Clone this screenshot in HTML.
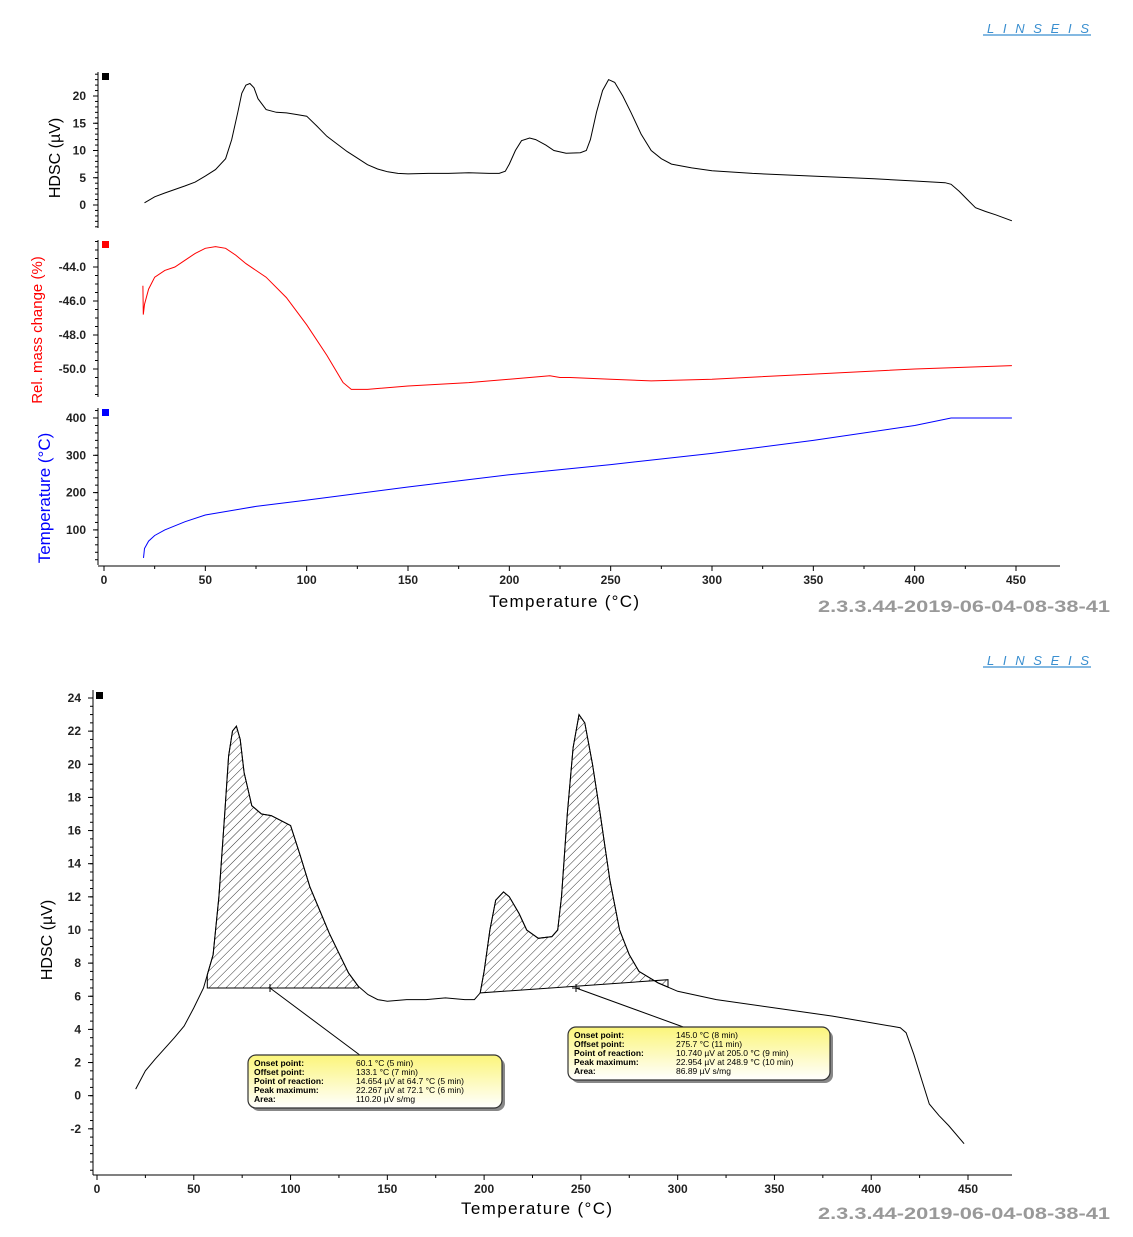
<!DOCTYPE html>
<html><head><meta charset="utf-8"><style>
html,body{margin:0;padding:0;background:#fff}
svg{display:block;font-family:"Liberation Sans",Verdana,sans-serif}
.tk{font-size:12px;font-weight:bold;fill:#222}
</style></head><body>
<svg id="c" width="1133" height="1237" xmlns="http://www.w3.org/2000/svg"></svg>
<script>
// ---- data ----
const hdscT=[20,25,30,40,45,50,55,60,63,66,68,70,72,74,76,80,85,90,95,100,105,110,115,120,125,130,135,140,145,150,160,170,180,190,195,198,200,203,206,210,213,218,222,228,235,238,240,243,246,249,252,256,260,265,270,275,280,290,300,320,350,380,400,415,418,422,426,430,435,440,448];
const hdscV=[0.4,1.5,2.2,3.5,4.2,5.3,6.5,8.5,12,17,20.5,22,22.3,21.5,19.5,17.5,17.0,16.9,16.6,16.3,14.5,12.6,11.2,9.8,8.6,7.4,6.6,6.1,5.8,5.7,5.8,5.8,5.9,5.8,5.8,6.2,7.5,10,11.8,12.3,12,11,10,9.5,9.6,10,12,17,21,23,22.5,20,17,13,10,8.5,7.5,6.8,6.3,5.8,5.3,4.8,4.4,4.1,3.8,2.5,1,-0.5,-1.2,-1.8,-2.9];
const massT=[19.2,19.4,20,22,25,30,35,40,45,50,55,60,65,70,80,90,100,110,118,122,130,150,180,200,210,220,225,230,250,270,300,350,400,448];
const massV=[-45.1,-46.8,-46.2,-45.3,-44.6,-44.2,-44.0,-43.6,-43.2,-42.9,-42.8,-42.9,-43.3,-43.8,-44.6,-45.8,-47.4,-49.2,-50.8,-51.2,-51.2,-51.0,-50.8,-50.6,-50.5,-50.4,-50.5,-50.5,-50.6,-50.7,-50.6,-50.3,-50.0,-49.8];
const tempT=[19.5,20,22,25,30,40,50,75,100,150,200,250,300,350,400,418,448];
const tempV=[25,50,70,85,100,122,140,163,180,215,248,275,305,340,380,400,400];
const xTicks=[0,50,100,150,200,250,300,350,400,450];
const hdscTicksTop=[0,5,10,15,20];
const massTicks=[-44,-46,-48,-50];
const tempTicks=[100,200,300,400];
const hdscTicksBot=[-2,0,2,4,6,8,10,12,14,16,18,20,22,24];
const peak1=[57,135,6.5,6.5]; const peak2=[198,295,6.2,7.0];
const NS="http://www.w3.org/2000/svg";
const svg=document.getElementById('c');
function el(tag,attrs,parent,text){const e=document.createElementNS(NS,tag);for(const k in attrs)e.setAttribute(k,attrs[k]);if(text!==undefined)e.textContent=text;(parent||svg).appendChild(e);return e;}
const xT=t=>104+t*912/450, xB=t=>97+t*871/450;
const yH=v=>205-v*5.45, yM=v=>267-(v+44)*17, yTe=v=>418-(v-400)*0.373, yB=v=>698+(24-v)*16.57;
function pathD(X,Y,xs,ys){return xs.map((t,i)=>(i?'L':'M')+X(t).toFixed(1)+','+Y(ys[i]).toFixed(1)).join('');}
function interp(xs,ys,t){for(let i=1;i<xs.length;i++)if(t<=xs[i]){const f=(t-xs[i-1])/(xs[i]-xs[i-1]);return ys[i-1]+f*(ys[i]-ys[i-1]);}return ys[ys.length-1];}
function logo(x,y){const g=el('g',{},svg);
 el('text',{x:x+2,y:y,'font-size':13,'font-style':'italic',fill:'#3a8fd0',textLength:102,lengthAdjust:'spacing'},g,'LINSEIS');
 el('line',{x1:x-2,y1:y+2,x2:x+106,y2:y+2,stroke:'#3a8fd0','stroke-width':1.2},g);}
function version(y){const t=el('text',{x:818,y:y,'font-size':17,'font-weight':'bold',fill:'#999',textLength:292,lengthAdjust:'spacingAndGlyphs'},svg,'2.3.3.44-2019-06-04-08-38-41');}
function yAxis(x,y0,y1,Y,ticks,fmt,color,minorStep,g){
 el('line',{x1:x,y1:y0,x2:x,y2:y1,stroke:'#000'},g);
 ticks.forEach(v=>{el('line',{x1:x-5,y1:Y(v),x2:x,y2:Y(v),stroke:'#000'},g);
  const t=el('text',{x:x-12,y:Y(v)+4,'text-anchor':'end',class:'tk',fill:color},g,fmt(v));});
 if(minorStep){const a=Math.min(Y(ticks[0]),Y(ticks[ticks.length-1]));for(let y=a-Math.floor((a-y0)/minorStep)*minorStep;y<=y1;y+=minorStep)el('line',{x1:x-3,y1:y,x2:x,y2:y,stroke:'#000'},g);}
}
function xAxis(X,y,x0,x1,g){
 el('line',{x1:x0,y1:y,x2:x1,y2:y,stroke:'#000'},g);
 xTicks.forEach((t,i)=>{el('line',{x1:X(t),y1:y,x2:X(t),y2:y+5,stroke:'#000'},g);
  if(i<xTicks.length-1)el('line',{x1:X(t+25),y1:y,x2:X(t+25),y2:y+3,stroke:'#000'},g);
  const l=el('text',{x:X(t),y:y+18,'text-anchor':'middle',class:'tk'},g,t);});
}
// ===== top chart =====
logo(985,33);
const topChart=el('g',{});
yAxis(98,72,228,yH,hdscTicksTop,v=>v,'#222',5.45,topChart);
el('rect',{x:102,y:73,width:7,height:7,fill:'#000'},topChart);
let t1=el('text',{transform:'translate(60,158) rotate(-90)','text-anchor':'middle','font-size':16,fill:'#000'},topChart,'HDSC (µV)');
yAxis(98,240,397,yM,massTicks,v=>v.toFixed(1),'#f00',8.5,topChart);
el('rect',{x:102,y:241,width:7,height:7,fill:'#f00'},topChart);
let t2=el('text',{transform:'translate(42,330) rotate(-90)','text-anchor':'middle','font-size':15,fill:'#f00'},topChart,'Rel. mass change (%)');
yAxis(98,408,565,yTe,tempTicks,v=>v,'#33f',7.46,topChart);
el('rect',{x:102,y:409,width:7,height:7,fill:'#00f'},topChart);
let t3=el('text',{transform:'translate(50,498) rotate(-90)','text-anchor':'middle','font-size':17,fill:'#00f'},topChart,'Temperature (°C)');
xAxis(xT,566,98,1060,topChart);
let xl=el('text',{x:489,y:607,'font-size':17,fill:'#000',textLength:150},topChart,'Temperature (°C)');
let p1=el('path',{d:pathD(xT,yH,hdscT,hdscV),fill:'none',stroke:'#000','stroke-width':1},topChart);
let p2=el('path',{d:pathD(xT,yM,massT,massV),fill:'none',stroke:'#f00','stroke-width':1},topChart);
let p3=el('path',{d:pathD(xT,yTe,tempT,tempV),fill:'none',stroke:'#00f','stroke-width':1},topChart);
version(612);
// ===== bottom chart =====
logo(985,665);
const botChart=el('g',{});
const defs=el('defs',{},svg);
const pat=el('pattern',{id:'hatch',width:6,height:6,patternUnits:'userSpaceOnUse',patternTransform:'rotate(45)'},defs);
el('line',{x1:0,y1:0,x2:0,y2:6,stroke:'#000','stroke-width':0.8},pat);
yAxis(93,690,1175,yB,hdscTicksBot,v=>v,'#222',8.285,botChart);
el('rect',{x:96,y:692,width:7,height:7,fill:'#000'},botChart);
let t4=el('text',{transform:'translate(52,940) rotate(-90)','text-anchor':'middle','font-size':16,fill:'#000'},botChart,'HDSC (µV)');
xAxis(xB,1175,93,1012,botChart);
let xl2=el('text',{x:461,y:1214,'font-size':17,fill:'#000',textLength:151},botChart,'Temperature (°C)');
[peak1,peak2].forEach((p,k)=>{
 const xs=[p[0]],ys=[interp(hdscT,hdscV,p[0])];
 hdscT.forEach((t,i)=>{if(t>p[0]&&t<p[1]){xs.push(t);ys.push(hdscV[i]);}});
 xs.push(p[1]);ys.push(interp(hdscT,hdscV,p[1]));
 let d=pathD(xB,yB,xs,ys)+'L'+xB(p[1]).toFixed(1)+','+yB(p[3]).toFixed(1)+'L'+xB(p[0]).toFixed(1)+','+yB(p[2]).toFixed(1)+'Z';
 const a=el('path',{d:d,fill:'url(#hatch)',stroke:'#000','stroke-width':1},botChart);
 
 
});
let p4=el('path',{d:pathD(xB,yB,hdscT,hdscV),fill:'none',stroke:'#000','stroke-width':1},botChart);
const grad=el('linearGradient',{id:'yel',x1:0,y1:0,x2:0,y2:1},defs);
el('stop',{offset:0,'stop-color':'#fbf57a'},grad);el('stop',{offset:1,'stop-color':'#ffffff'},grad);
function callout(px,py,bx,by,w,h,rows,name){
 const g=el('g',{},botChart);
 el('path',{d:`M${px-4},${py}H${px+4}M${px},${py-4}V${py+4}`,stroke:'#000'},g);
 el('line',{x1:px,y1:py,x2:bx+w*0.44,y2:by,stroke:'#000'},g);
 el('rect',{x:bx+3,y:by+3,width:w,height:h,rx:8,fill:'#888'},g);
 el('rect',{x:bx,y:by,width:w,height:h,rx:8,fill:'url(#yel)',stroke:'#333','stroke-width':1.2},g);
 rows.forEach((r,i)=>{el('text',{x:bx+6,y:by+11+i*9,'font-size':8.5,'font-weight':'bold',fill:'#000'},g,r[0]);
  el('text',{x:bx+108,y:by+11+i*9,'font-size':8.5,fill:'#000'},g,r[1]);});
}
callout(270,988,248,1055,254,53,[['Onset point:','60.1 °C (5 min)'],['Offset point:','133.1 °C (7 min)'],['Point of reaction:','14.654 µV at 64.7 °C (5 min)'],['Peak maximum:','22.267 µV at 72.1 °C (6 min)'],['Area:','110.20 µV s/mg']],'callout-peak-1');
callout(576,988,568,1027,262,53,[['Onset point:','145.0 °C (8 min)'],['Offset point:','275.7 °C (11 min)'],['Point of reaction:','10.740 µV at 205.0 °C (9 min)'],['Peak maximum:','22.954 µV at 248.9 °C (10 min)'],['Area:','86.89 µV s/mg']],'callout-peak-2');
version(1219);
</script>
</body></html>
